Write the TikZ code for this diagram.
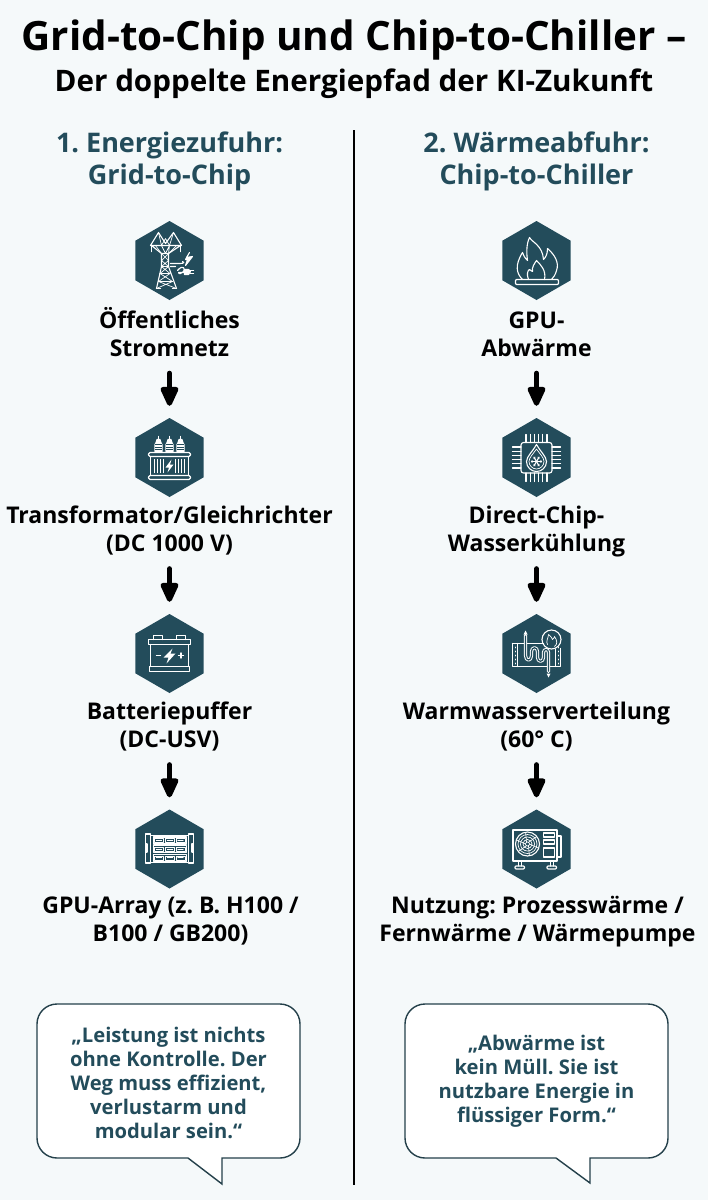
\documentclass[tikz,border=0pt]{standalone}
\usepackage{fontspec}
\setmainfont{Open Sans}
\usetikzlibrary{arrows.meta,shapes.geometric}
\definecolor{bgc}{HTML}{F5F9FA}
\definecolor{teal}{HTML}{234C5B}
\definecolor{bubl}{HTML}{24404A}
\newcommand\ls{\rule[-6pt]{0pt}{28pt}}
\frenchspacing
\tikzset{
  hexa/.style={regular polygon,regular polygon sides=6,shape border rotate=30,minimum size=79pt,inner sep=0pt,fill=teal,draw=none},
  lab/.style={font=\frenchspacing\fontsize{23}{28}\selectfont\bfseries,align=center,inner sep=0pt,minimum height=56pt,text=black},
  head/.style={font=\frenchspacing\fontsize{27}{32}\selectfont\bfseries,align=center,inner sep=0pt,text=teal},
  quote/.style={font=\frenchspacing\fontsize{20.2}{24}\selectfont\bfseries,align=center,inner sep=0pt,text=teal},
  bub/.style={draw=bubl,line width=1.4pt,fill=white,line join=miter},
  flow/.style={draw=black,line width=5pt,line cap=round,-{Triangle[length=23pt,width=19pt,round]},shorten <=11pt,shorten >=12pt},
  ic/.style={draw=white,line width=1.1pt,line join=round,line cap=round},
  ict/.style={draw=white,line width=.7pt,line join=round,line cap=round},
}
% ---------- icons (coordinates relative to hexagon centre) ----------
\newcommand\iconPylon{%
  \path[ic] (-19,-15) -- (-11,-28) -- (-4,-17) -- (4,-28) -- (12,-15);
  \path[ic] (-19,-15) -- (12,-15) (-18,-15) -- (-8,-7) -- (-1,-7) -- (11,-15);
  \path[ict] (-11,-28) -- (-8,-15) -- (-4,-22) -- (0,-15) -- (4,-28);
  \path[ict] (-14,-15) -- (-8,-7) (-8,-15) -- (-4,-7) -- (0,-15) -- (-1,-7) (7,-15) -- (-1,-7);
  \foreach \a in {-18,11}{\path[ic,line width=1.5pt] (\a,-15) -- (\a,-9);}
  \path[ic] (-8,-7) -- (-8,6) -- (-13,28) (-1,-7) -- (-1,6) -- (7,28);
  \path[ic] (-8,6) -- (-1,6) (-9.5,13) -- (.5,13) (-11,21) -- (3,21);
  \path[ict] (-8,-7) -- (-1,0) -- (-8,6) -- (.5,13) -- (-9.5,13) -- (3,21) -- (-11,21) -- (7,28) (-1,-7) -- (-8,0) -- (-1,6) -- (-9.5,13) (.5,13) -- (-11,21) (3,21) -- (-13,28);
  \path[ic] (-13,28) -- (-9,28) (3,28) -- (7,28);
  \path[ic] (1,3) -- (11,3) .. controls (15,3) and (15,1) .. (13,1) (1,6) -- (6,6);
  \path[ic,fill=white] (16,-1) -- (20,-8) -- (17,-3) -- (23,-4) -- (16,5) -- (18,-1) -- cycle;
  \path[ic] (8,10) .. controls (14,3) and (16,9) .. (14,11) .. controls (13,13) and (9,14) .. (9,12) -- (14,12);
  \path[ic,fill=white] (15,9) -- (19,9) -- (21,11) -- (19,14) -- (15,14) -- cycle;
  \path[ic] (21,10) -- (24,10) (21,13) -- (24,13);
}
\newcommand\iconTrafo{%
  \foreach \a in {-11,0,11}{
    \path[ic] (\a,-21) -- (\a,-18);
    \path[ic,fill=white] (\a-1.5,-18) -- (\a+1.5,-18) -- (\a+2.5,-15) -- (\a+3.5,-13) -- (\a+3.5,-6) -- (\a-3.5,-6) -- (\a-3.5,-13) -- (\a-2.5,-15) -- cycle;
    \path[draw=teal,line width=.5pt] (\a-3.5,-13) -- (\a+3.5,-13) (\a-3.5,-10.5) -- (\a+3.5,-10.5) (\a-3.5,-8) -- (\a+3.5,-8);
  }
  \path[ic,rounded corners=1.5pt] (-21,-5) rectangle (21,-1);
  \path[ic] (-19,-1) rectangle (19,18);
  \path[ic,rounded corners=1.5pt] (-21,18) rectangle (21,22);
  \foreach \a in {-15,-12,-9,-6,6,9,12,15}{\path[ic] (\a,2) -- (\a,15);}
  \path[draw=none,fill=white] (2,2) -- (-4,10) -- (-.5,10) -- (-2,15) -- (4,7) -- (.5,7) -- cycle;
}
\newcommand\iconBatt{%
  \path[ic] (-16,-14) -- (-16,-18) -- (-7,-18) -- (-7,-14);
  \path[ic] (7,-14) -- (7,-18) -- (16,-18) -- (16,-14);
  \path[ic,line width=1.3pt] (-21,-14) rectangle (21,-9);
  \path[ic] (-19,-9) -- (-19,13) (19,-9) -- (19,13);
  \path[ic,line width=1.3pt] (-20,13) rectangle (20,18);
  \path[ic,line width=1.4pt] (-13,2) -- (-9,2) (9,2) -- (14,2) (11.5,-.5) -- (11.5,4.5);
  \path[draw=none,fill=white] (3,-5) -- (-6,4) -- (-1,4) -- (-3,10) -- (6,0) -- (1,0) -- cycle;
}
\newcommand\iconRack{%
  \path[ic] (-24,-15) rectangle (-19,14) (19,-15) rectangle (24,14);
  \path[ic] (-19,-13.5) -- (19,-13.5) (-19,13.5) -- (19,13.5);
  \path[ic,fill=white] (-24,-5) rectangle (-22.5,3);
  \path[ic,fill=white] (22.5,-5) rectangle (24,3);
  \foreach \r in {-12,-3.3,5.4}{
    \path[ic] (-16,\r) rectangle (17,\r+7);
    \foreach \c in {-16,-5,5.5}{
      \path[ict] (\c+1,\r+1.5) rectangle (\c+10,\r+5.5);
      \path[ic] (\c+3,\r+3.5) -- (\c+8,\r+3.5);
    }
  }
}
\newcommand\iconFlame{%
  \path[ic,rounded corners=1pt] (-21,19) rectangle (22,24);
  \path[ic] (-14,19) .. controls (-20,13) and (-22,5) .. (-14,-8) .. controls (-13,-5) and (-12,-3) .. (-9,0)
     .. controls (-11,-14) and (-8,-21) .. (-7,-23) .. controls (-4,-18) and (6,-15) .. (7,-1)
     .. controls (9,-3) and (11,-6) .. (11,-12) .. controls (18,-6) and (23,2) .. (20,10) .. controls (19,14) and (17,17) .. (15,19);
  \path[ic] (-8,19) .. controls (-10,14) and (-9,10) .. (-7,9) .. controls (-5,10) and (-5,11) .. (-4,11)
     .. controls (-5,7) and (-2,3) .. (0,0) .. controls (4,4) and (10,10) .. (8,19);
}
\newcommand\iconChip{%
  \path[ic,rounded corners=2.5pt] (-15.5,-15) rectangle (15.5,15.5);
  \foreach \a in {-10.5,-6.3,-2.1,2.1,6.3,10.5}{\path[ic] (\a,-15) -- (\a,-23) (\a,15.5) -- (\a,24);}
  \foreach \a in {-10.5,-6.3,-2.1,2.1,6.3,10.5}{\path[ic] (-15.5,\a) -- (-24,\a) (15.5,\a) -- (24,\a);}
  \path[ic] (0,-13) .. controls (3,-7) and (10,-1) .. (10,4) .. controls (10,10) and (5,14) .. (0,14) .. controls (-5,14) and (-10,10) .. (-10,4) .. controls (-10,-1) and (-3,-7) .. (0,-13) -- cycle;
  \path[ict] (0,-8.5) .. controls (3,-4) and (7.5,0) .. (7.5,4) .. controls (7.5,8) and (4,11.5) .. (0,11.5) .. controls (-4,11.5) and (-7.5,8) .. (-7.5,4) .. controls (-7.5,0) and (-3,-4) .. (0,-8.5) -- cycle;
  \foreach \t in {0,60,120}{\path[ic] (0,4)++(\t:5) -- ++(\t+180:10);}
  \foreach \t in {0,60,...,300}{\path[ict] (0,4)++(\t:3.5) -- ++(\t+40:1.6) (0,4)++(\t:3.5) -- ++(\t-40:1.6);}
}
\newcommand\iconExch{%
  \path[ic] (-24,-10) -- (7,-10) (-24,-10) -- (-24,13) -- (24,13) -- (24,-5);
  \path[ic] (-19,-10) -- (-19,13) (19,-4) -- (19,13);
  \foreach \a in {-6,-2,2,6,10}{\path[ict] (-21.5,\a-.5) -- (-21.5,\a+.5) (21.5,\a-.5) -- (21.5,\a+.5);}
  \path[ic] (15,-14) circle[radius=9.5pt];
  \path[ict] (11,-9) .. controls (9,-12) and (12,-16) .. (12,-19) .. controls (14,-17) and (15,-17) .. (16,-14) .. controls (17,-15) and (18,-16) .. (18,-17) .. controls (21,-13) and (21,-9) .. (18,-7);
  \path[ic,line width=3.2pt] (-11,-18) -- (-11,2) .. controls (-11,8) and (-5,8) .. (-5,2) -- (-5,-2) .. controls (-5,-7) and (1,-7) .. (1,-2) -- (1,4) .. controls (1,9) and (7,9) .. (7,4) -- (7,-1) .. controls (7,-5) and (12,-5) .. (12,-1) -- (12,18);
  \path[draw=teal,line width=1.2pt] (-11,-18) -- (-11,2) .. controls (-11,8) and (-5,8) .. (-5,2) -- (-5,-2) .. controls (-5,-7) and (1,-7) .. (1,-2) -- (1,4) .. controls (1,9) and (7,9) .. (7,4) -- (7,-1) .. controls (7,-5) and (12,-5) .. (12,-1) -- (12,18);
  \path[draw=none,fill=white] (-11,-23) -- (-13,-19) -- (-9,-19) -- cycle (12,24) -- (10,20) -- (14,20) -- cycle;
}
\newcommand\iconAC{%
  \path[ic] (-23.5,-19) rectangle (20.5,12);
  \path[ic] (-9,-5) circle[radius=12pt];
  \path[ict] (-9,-5) circle[radius=9.5pt] (-9,-5) circle[radius=7pt] (-9,-5) circle[radius=4.5pt] (-9,-5) circle[radius=2pt];
  \foreach \t in {0,60,...,300}{\path[ict] (-9,-5)++(\t:2) -- ++(\t+25:10);}
  \path[ic] (7,-16) rectangle (18,-12) (7,-9) rectangle (18,-5) (7,-1) rectangle (18,8);
  \path[ic] (20.5,-13) -- (24.5,-13) -- (24.5,8) -- (20.5,8);
  \path[ic] (-18,12) -- (-18,17) (-15,12) -- (-15,17) (14,12) -- (14,17) (17,12) -- (17,17);
  \path[ic,rounded corners=1pt] (-21.5,17) rectangle (-12,20) (10.5,17) rectangle (20,20);
}
\begin{document}
\begin{tikzpicture}[x=1pt,y=-1pt]
\useasboundingbox (0,0) rectangle (708,1200);
\fill[bgc] (0,0) rectangle (708,1200);
% titles
\node[inner sep=0pt,font=\fontsize{40.4}{46}\selectfont\bfseries] (title) at (354,40) {Grid-to-Chip und Chip-to-Chiller –};
\node[inner sep=0pt,font=\fontsize{29.6}{34}\selectfont\bfseries] (subtitle) at (354,83.5) {Der doppelte Energiepfad der KI-Zukunft};
\node[head] (headL) at (169.5,161) {1. Energiezufuhr:\\Grid-to-Chip};
\node[head] (headR) at (536.5,161) {2. Wärmeabfuhr:\\Chip-to-Chiller};
% divider
\coordinate (divT) at (354,130);
\coordinate (divB) at (354,1185);
\draw[black,line width=2.4pt] (divT) -- (divB);
% left column
\node[hexa] (a1) at (169.5,260.5) {};
\node[hexa] (a2) at (169.5,457.5) {};
\node[hexa] (a3) at (169.5,653.5) {};
\node[hexa] (a4) at (169.5,849) {};
\node[lab] (la1) at (169.5,334) {Öffentliches\ls\\Stromnetz\ls};
\node[lab] (la2) at (169.5,529.5) {Transformator/Gleichrichter\ls\\(DC 1000 V)\ls};
\node[lab] (la3) at (169.5,725.5) {Batteriepuffer\ls\\(DC-USV)\ls};
\node[lab] (la4) at (170.5,919.5) {GPU-Array (z. B. H100 /\ls\\B100 / GB200)\ls};
% right column
\node[hexa] (b1) at (536.5,260.5) {};
\node[hexa] (b2) at (536.5,457.5) {};
\node[hexa] (b3) at (536.5,653.5) {};
\node[hexa] (b4) at (536.5,849) {};
\node[lab] (lb1) at (536.5,334) {GPU-\ls\\Abwärme\ls};
\node[lab] (lb2) at (536.5,529.5) {Direct-Chip-\ls\\Wasserkühlung\ls};
\node[lab] (lb3) at (536.5,725.5) {Warmwasserverteilung\ls\\(60° C)\ls};
\node[lab] (lb4) at (537.5,919.5) {Nutzung: Prozesswärme /\ls\\Fernwärme / Wärmepumpe\ls};
% connectors
\draw[flow] (la1.south) -- (a2.north);
\draw[flow] (la2.south) -- (a3.north);
\draw[flow] (la3.south) -- (a4.north);
\draw[flow] (lb1.south) -- (b2.north);
\draw[flow] (lb2.south) -- (b3.north);
\draw[flow] (lb3.south) -- (b4.north);
% icons
\begin{scope}[shift={(a1.center)}]\iconPylon\end{scope}
\begin{scope}[shift={(a2.center)}]\iconTrafo\end{scope}
\begin{scope}[shift={(a3.center)}]\iconBatt\end{scope}
\begin{scope}[shift={(a4.center)}]\iconRack\end{scope}
\begin{scope}[shift={(b1.center)}]\iconFlame\end{scope}
\begin{scope}[shift={(b2.center)}]\iconChip\end{scope}
\begin{scope}[shift={(b3.center)}]\iconExch\end{scope}
\begin{scope}[shift={(b4.center)}]\iconAC\end{scope}
% bubbles
\path[bub] (57,1004) -- (280,1004) arc[start angle=-90,end angle=0,x radius=20pt,y radius=-20pt] -- (300,1138)
  arc[start angle=0,end angle=90,x radius=20pt,y radius=-20pt] -- (222,1158) -- (222,1184) -- (188,1158) -- (57,1158)
  arc[start angle=90,end angle=180,x radius=20pt,y radius=-20pt] -- (37,1024)
  arc[start angle=180,end angle=270,x radius=20pt,y radius=-20pt] -- cycle;
\path[bub] (425,1004) -- (648,1004) arc[start angle=-90,end angle=0,x radius=20pt,y radius=-20pt] -- (668,1138)
  arc[start angle=0,end angle=90,x radius=20pt,y radius=-20pt] -- (590,1158) -- (590,1183) -- (556,1158) -- (425,1158)
  arc[start angle=90,end angle=180,x radius=20pt,y radius=-20pt] -- (405,1024)
  arc[start angle=180,end angle=270,x radius=20pt,y radius=-20pt] -- cycle;
\node[quote] (qL) at (168.5,1082.5) {„Leistung ist nichts\\ohne Kontrolle. Der\\Weg muss effizient,\\verlustarm und\\modular sein.“};
\node[quote] (qR) at (536.5,1081) {„Abwärme ist\\kein Müll. Sie ist\\nutzbare Energie in\\flüssiger Form.“};
\end{tikzpicture}
\end{document}
